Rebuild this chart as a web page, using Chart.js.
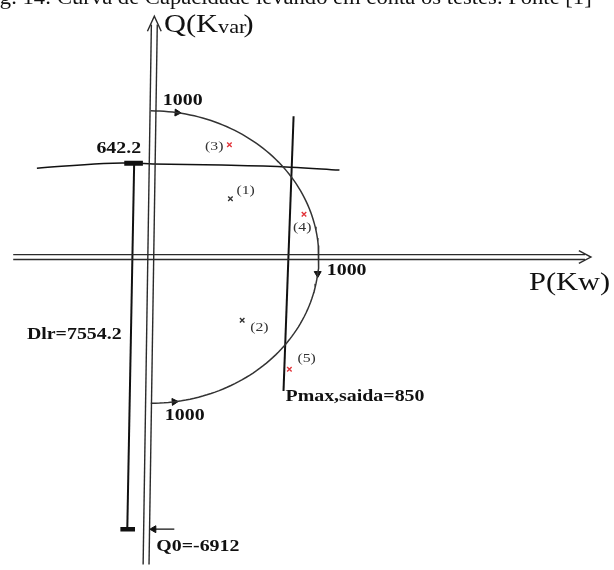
<!DOCTYPE html>
<html>
<head>
<meta charset="utf-8">
<script src="https://cdn.jsdelivr.net/npm/chart.js@4/dist/chart.umd.min.js"></script>
<style>
  html, body { margin: 0; padding: 0; background: #ffffff; }
  #wrap { position: relative; width: 614px; height: 570px; overflow: hidden; }
</style>
</head>
<body>
<div id="wrap"><canvas id="cap" width="614" height="570"></canvas></div>
<script>
// ---- Values of the capability diagram (kW / kVar) ----
const RATED = 1000;          // rated apparent power, radius of the capability circle
const Q_MAX_ROTOR = 642.2;   // top of the rotor-limit arc
const DLR = 7554.2;          // rotor limit radius
const Q0 = -6912;            // centre of the rotor-limit circle
const PMAX = 850;            // prime mover limit, Pmax,saida

// test points
const testLabels = ['(1)', '(2)', '(3)', '(4)', '(5)'];
const testP = [474, 544, 468, 912, 825];
const testQ = [399, -433, 768, 292, -768];
const testOutside = [false, false, true, true, true];

// rotor-limit arc as traced near its top
const rotorArcP = [-678, -281, -100, 12, 421, 830, 1123];
const rotorArcQ = [608, 640, 642.2, 637, 629, 615, 595];

// ---- Layout ----
const W = 614, H = 570;
const ORIGIN_X = 148, ORIGIN_Y = 256.5;
const PX_PER_KW = 0.171, PX_PER_KVAR = 0.149;
const LOW_BREAK = -1000, LOW_RATE = 0.1458;   // compressed stretch below the circle

function squeeze(v) { return v >= LOW_BREAK ? v : LOW_BREAK + (v - LOW_BREAK) * LOW_RATE; }
function unsqueeze(d) { return d >= LOW_BREAK ? d : LOW_BREAK + (d - LOW_BREAK) / LOW_RATE; }

// Linear Q scale whose far negative part is compressed so Q0 fits on the sheet
class SchematicScale extends Chart.LinearScale {
  getPixelForValue(value, index) { return super.getPixelForValue(value == null ? value : squeeze(value), index); }
  getValueForPixel(pixel) { return unsqueeze(super.getValueForPixel(pixel)); }
}
SchematicScale.id = 'schematic';
SchematicScale.defaults = {};
Chart.register(SchematicScale);

const INK = '#111111';
const AXIS = '#2b2b2b';
const RED = '#e2363c';

// capability circle, right half
const circle = [];
for (let a = 90; a >= -90; a -= 1.5) {
  const r = a * Math.PI / 180;
  circle.push({ x: RATED * Math.cos(r), y: RATED * Math.sin(r) });
}
function onCircle(deg) { const r = deg * Math.PI / 180; return { x: RATED * Math.cos(r), y: RATED * Math.sin(r) }; }

function seg(points, color, width, extra) {
  return Object.assign({
    data: points, showLine: true, borderColor: color, borderWidth: width,
    pointRadius: 0, fill: false, tension: 0
  }, extra || {});
}

// double-line axes (drawn in data space)
const pAxisOff = 2.5 / PX_PER_KVAR;
const qAxisOff = 3 / PX_PER_KW;
const pLeft = -819, pShaftEnd = 2585, pTip = 2620, pWingX = 2548, pWingY = 44;
const qTopC = 21, qBotC = -29, qTopY = 1590, qBotY = -9000, qTipY = 1648, qWingY = 1545, qWingX = 41;

const datasets = [
  // P axis
  seg([{ x: pLeft, y: pAxisOff }, { x: pShaftEnd, y: pAxisOff }], AXIS, 1.4),
  seg([{ x: pLeft, y: -pAxisOff }, { x: pShaftEnd, y: -pAxisOff }], AXIS, 1.4),
  seg([{ x: pWingX, y: pWingY }, { x: pTip, y: 0 }, { x: pWingX, y: -pWingY }], AXIS, 1.4),
  // Q axis
  seg([{ x: qTopC - qAxisOff, y: qTopY }, { x: qBotC - qAxisOff, y: qBotY }], AXIS, 1.4),
  seg([{ x: qTopC + qAxisOff, y: qTopY }, { x: qBotC + qAxisOff, y: qBotY }], AXIS, 1.4),
  seg([{ x: qTopC - qWingX, y: qWingY }, { x: qTopC, y: qTipY }, { x: qTopC + qWingX, y: qWingY }], AXIS, 1.4),
  // capability circle
  seg(circle, '#333333', 1.5),
  // rotor-limit arc
  seg(rotorArcP.map((p, i) => ({ x: p, y: rotorArcQ[i] })), INK, 1.5, { tension: 0.4 }),
  // Dlr line from the arc top down to Q0
  seg([{ x: -99, y: Q_MAX_ROTOR }, { x: -140, y: Q0 }], INK, 2),
  // end bars
  seg([{ x: -158, y: Q_MAX_ROTOR }, { x: -47, y: Q_MAX_ROTOR }], INK, 5),
  seg([{ x: -181, y: Q0 }, { x: -94, y: Q0 }], INK, 4.5),
  // Q0 pointer
  seg([{ x: 140, y: Q0 }, { x: 10, y: Q0 }], INK, 1.3),
  { data: [{ x: 18, y: Q0 }], showLine: false, pointStyle: 'triangle', pointRadius: 4, rotation: 270,
    backgroundColor: INK, borderColor: INK, borderWidth: 1 },
  // Pmax line
  seg([{ x: PMAX, y: 963 }, { x: PMAX - 60, y: -916 }], INK, 2),
  // arrowheads on the circle
  { data: [onCircle(81)], showLine: false, pointStyle: 'triangle', pointRadius: 4, rotation: 93,
    backgroundColor: INK, borderColor: INK, borderWidth: 1 },
  { data: [onCircle(-6.5)], showLine: false, pointStyle: 'triangle', pointRadius: 4, rotation: 180,
    backgroundColor: INK, borderColor: INK, borderWidth: 1 },
  { data: [onCircle(-82)], showLine: false, pointStyle: 'triangle', pointRadius: 4, rotation: 86,
    backgroundColor: INK, borderColor: INK, borderWidth: 1 },
  // test points
  { data: testP.map((p, i) => ({ x: p, y: testQ[i] })), showLine: false, pointStyle: 'crossRot',
    pointRadius: 3.2, borderWidth: 1.4,
    borderColor: testOutside.map(o => o ? RED : '#333333'),
    backgroundColor: testOutside.map(o => o ? RED : '#333333') }
];

// ---- Text ----
const SERIF = '"Liberation Serif", "Times New Roman", serif';
const STRETCH = 1.17;
// anchored labels: offsets in pixels from the anchor point
const labels = [
  { text: '1000', at: onCircle(90), dx: 12, dy: -10, bold: true, size: 17, align: 'left' },
  { text: '1000', at: onCircle(0), dx: 8, dy: 14, bold: true, size: 17, align: 'left' },
  { text: '1000', at: onCircle(-90), dx: 14, dy: 12, bold: true, size: 17, align: 'left' },
  { text: String(Q_MAX_ROTOR), at: { x: -99, y: Q_MAX_ROTOR }, dx: 7, dy: -15, bold: true, size: 17, align: 'right' },
  { text: 'Dlr=' + DLR.toFixed(1), at: { x: -120, y: -534 }, dx: -9, dy: 0, bold: true, size: 17, align: 'right' },
  { text: 'Q0=' + Q0, at: { x: 0, y: Q0 }, dx: 5.5, dy: 17, bold: true, size: 17, align: 'left' },
  { text: 'Pmax,saida=' + PMAX, at: { x: PMAX - 60, y: -916 }, dx: 2, dy: 6, bold: true, size: 17, align: 'left' }
];
const testOffsets = [[6, -8, 'left'], [8, 7, 'left'], [-6, 2, 'right'], [-11, 13, 'left'], [8, -11, 'left']];

function put(ctx, text, x, y, size, bold, align, color, stretch) {
  ctx.save();
  ctx.translate(x, y);
  ctx.scale(stretch, 1);
  ctx.font = (bold ? 'bold ' : '') + size + 'px ' + SERIF;
  ctx.textAlign = align;
  ctx.textBaseline = 'middle';
  ctx.fillStyle = color;
  ctx.fillText(text, 0, 0);
  ctx.restore();
}

const textPlugin = {
  id: 'diagramText',
  afterDatasetsDraw(chart) {
    const ctx = chart.ctx;
    const xs = chart.scales.x, ys = chart.scales.y;
    labels.forEach(l => {
      put(ctx, l.text, xs.getPixelForValue(l.at.x) + l.dx, ys.getPixelForValue(l.at.y) + l.dy,
        l.size, l.bold, l.align, INK, STRETCH);
    });
    testLabels.forEach((t, i) => {
      const o = testOffsets[i];
      put(ctx, t, xs.getPixelForValue(testP[i]) + o[0], ys.getPixelForValue(testQ[i]) + o[1],
        13.5, false, o[2], '#333333', STRETCH);
    });
    // axis titles
    put(ctx, 'P(Kw)', 529, 283, 26, false, 'left', INK, STRETCH);
    ctx.save();
    let x = 164;
    const y = 25;
    ctx.font = '26px ' + SERIF;
    put(ctx, 'Q(K', x, y, 26, false, 'left', INK, STRETCH);
    x += ctx.measureText('Q(K').width * STRETCH;
    ctx.font = '19px ' + SERIF;
    put(ctx, 'var', x, y + 3, 19, false, 'left', INK, STRETCH);
    x += ctx.measureText('var').width * STRETCH - 3;
    put(ctx, ')', x, y, 26, false, 'left', INK, STRETCH);
    ctx.restore();
    // caption line above the figure
    ctx.save();
    ctx.translate(-19, 4);
    ctx.scale(1.13, 1);
    ctx.font = '20px ' + SERIF;
    ctx.fillStyle = INK;
    ctx.textBaseline = 'alphabetic';
    ctx.fillText('Fig. 14: Curva de Capacidade levando em conta os testes. Fonte [1]', 0, 0);
    ctx.restore();
  }
};

new Chart(document.getElementById('cap'), {
  type: 'scatter',
  data: { datasets },
  options: {
    responsive: false,
    devicePixelRatio: 1,
    animation: false,
    layout: { padding: 0 },
    plugins: { legend: { display: false }, tooltip: { enabled: false } },
    scales: {
      x: { type: 'linear', display: false, min: -ORIGIN_X / PX_PER_KW, max: (W - ORIGIN_X) / PX_PER_KW },
      y: { type: 'schematic', display: false, min: -(H - ORIGIN_Y) / PX_PER_KVAR, max: ORIGIN_Y / PX_PER_KVAR }
    }
  },
  plugins: [textPlugin]
});
</script>
</body>
</html>
